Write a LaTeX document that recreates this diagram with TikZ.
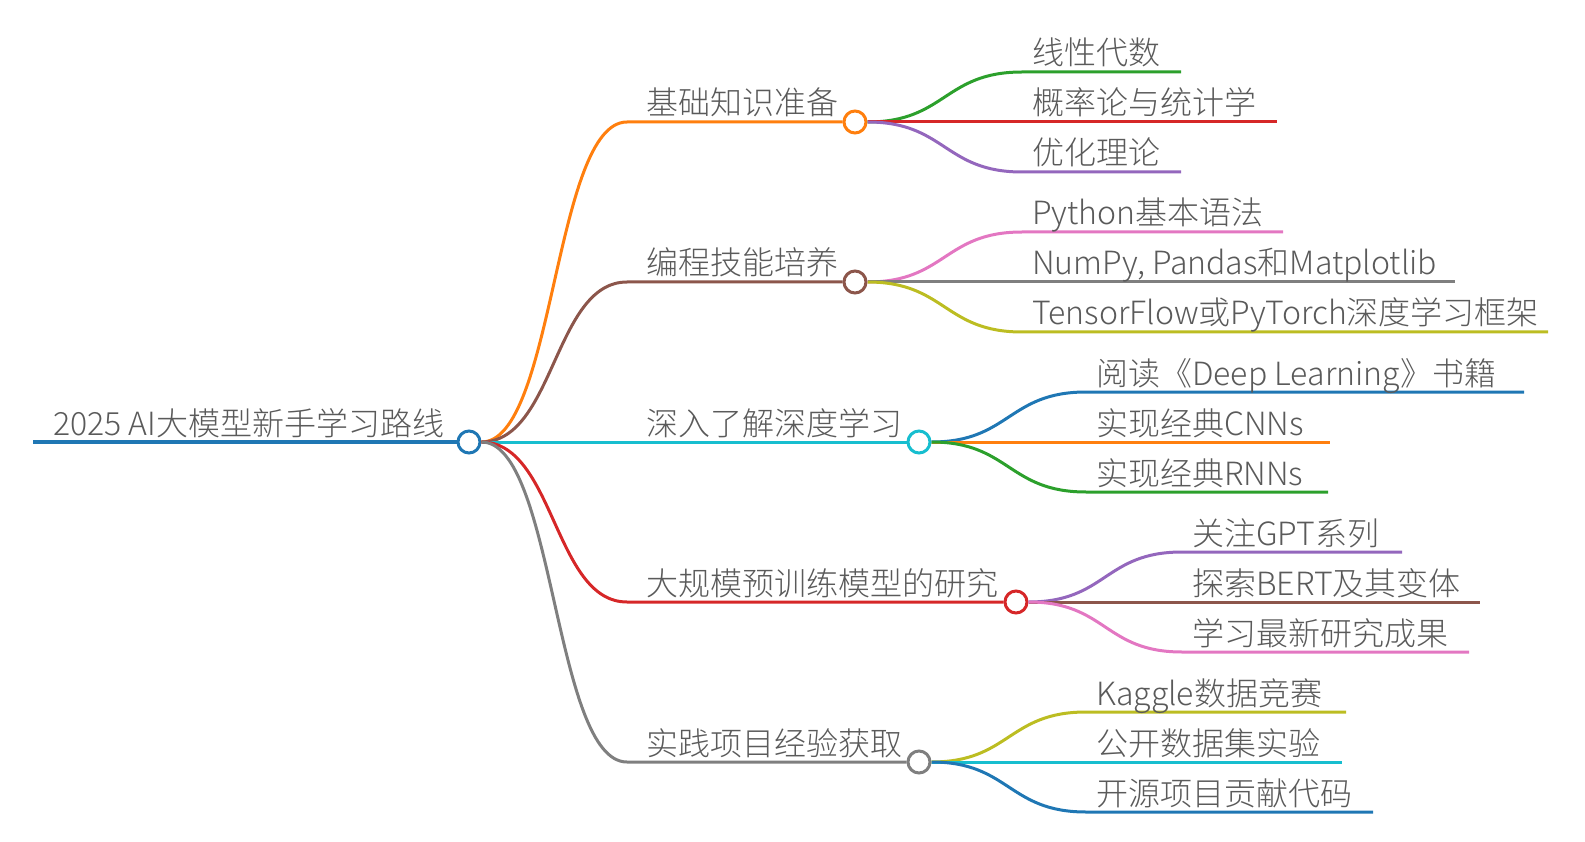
\documentclass[tikz,border=0pt]{standalone}
\usepackage{fontspec}
\setmainfont{Noto Sans CJK SC}[UprightFont={* Light}]
\definecolor{mBlue}{HTML}{1F77B4}
\definecolor{mOrange}{HTML}{FF7F0E}
\definecolor{mGreen}{HTML}{2CA02C}
\definecolor{mRed}{HTML}{D62728}
\definecolor{mPurple}{HTML}{9467BD}
\definecolor{mBrown}{HTML}{8C564B}
\definecolor{mPink}{HTML}{E377C2}
\definecolor{mGray}{HTML}{7F7F7F}
\definecolor{mOlive}{HTML}{BCBD22}
\definecolor{mCyan}{HTML}{17BECF}
\definecolor{mText}{HTML}{5A5A5A}
\begin{document}
\begin{tikzpicture}[x=1pt,y=-1pt,
  hub/.style={circle,draw=#1,line width=3pt,fill=white,minimum size=22pt,inner sep=0pt},
  branch/.style={draw=#1,line width=3pt},
  topic/.style={anchor=base west,inner sep=0pt,text=mText,font=\fontsize{32}{38}\selectfont}]
\useasboundingbox (0,0) rectangle (1585,842);

% root
\node[hub=mBlue] (root) at (469,442) {};
\coordinate (r0) at (33,442);
\draw[branch=mBlue,line width=4pt] (r0) -- (root.west);
\node[topic] (tRoot) at (53,435) {2025 AI大模型新手学习路线};

% level 1
\node[hub=mOrange] (b1) at (855,122) {};
\node[hub=mBrown] (b2) at (855,282) {};
\node[hub=mCyan] (b3) at (919,442) {};
\node[hub=mRed] (b4) at (1016,602) {};
\node[hub=mGray] (b5) at (919,762) {};
\coordinate (b1s) at (627,122);
\coordinate (b2s) at (627,282);
\coordinate (b3s) at (627,442);
\coordinate (b4s) at (627,602);
\coordinate (b5s) at (627,762);
\draw[branch=mOrange] (root.east) .. controls +(73,0) and +(-73,0) .. (b1s) -- (b1.west);
\draw[branch=mBrown] (root.east) .. controls +(73,0) and +(-73,0) .. (b2s) -- (b2.west);
\draw[branch=mCyan] (root.east) -- (b3s) -- (b3.west);
\draw[branch=mRed] (root.east) .. controls +(73,0) and +(-73,0) .. (b4s) -- (b4.west);
\draw[branch=mGray] (root.east) .. controls +(73,0) and +(-73,0) .. (b5s) -- (b5.west);
\node[topic] (t1) at (646,115) {基础知识准备};
\node[topic] (t2) at (646,275) {编程技能培养};
\node[topic] (t3) at (646,435) {深入了解深度学习};
\node[topic] (t4) at (646,595) {大规模预训练模型的研究};
\node[topic] (t5) at (646,755) {实践项目经验获取};

% level 2: 基础知识准备
\coordinate (l11s) at (1022,72);  \coordinate (l11e) at (1181,72);
\coordinate (l12s) at (1022,122); \coordinate (l12e) at (1277,122);
\coordinate (l13s) at (1022,172); \coordinate (l13e) at (1181,172);
\draw[branch=mGreen] (b1.east) .. controls +(78,0) and +(-78,0) .. (l11s) -- (l11e);
\draw[branch=mRed] (b1.east) -- (l12s) -- (l12e);
\draw[branch=mPurple] (b1.east) .. controls +(78,0) and +(-78,0) .. (l13s) -- (l13e);
\node[topic] (t11) at (1032,65) {线性代数};
\node[topic] (t12) at (1032,115) {概率论与统计学};
\node[topic] (t13) at (1032,165) {优化理论};

% level 2: 编程技能培养
\coordinate (l21s) at (1022,232); \coordinate (l21e) at (1283,232);
\coordinate (l22s) at (1022,282); \coordinate (l22e) at (1455,282);
\coordinate (l23s) at (1022,332); \coordinate (l23e) at (1548,332);
\draw[branch=mPink] (b2.east) .. controls +(78,0) and +(-78,0) .. (l21s) -- (l21e);
\draw[branch=mGray] (b2.east) -- (l22s) -- (l22e);
\draw[branch=mOlive] (b2.east) .. controls +(78,0) and +(-78,0) .. (l23s) -- (l23e);
\node[topic] (t21) at (1032,225) {Python基本语法};
\node[topic] (t22) at (1032,275) {NumPy, Pandas和Matplotlib};
\node[topic] (t23) at (1032,325) {TensorFlow或PyTorch深度学习框架};

% level 2: 深入了解深度学习
\coordinate (l31s) at (1086,392); \coordinate (l31e) at (1524,392);
\coordinate (l32s) at (1086,442); \coordinate (l32e) at (1330,442);
\coordinate (l33s) at (1086,492); \coordinate (l33e) at (1328,492);
\draw[branch=mBlue] (b3.east) .. controls +(78,0) and +(-78,0) .. (l31s) -- (l31e);
\draw[branch=mOrange] (b3.east) -- (l32s) -- (l32e);
\draw[branch=mGreen] (b3.east) .. controls +(78,0) and +(-78,0) .. (l33s) -- (l33e);
\node[topic] (t31) at (1096,385) {阅读《Deep Learning》书籍};
\node[topic] (t32) at (1096,435) {实现经典CNNs};
\node[topic] (t33) at (1096,485) {实现经典RNNs};

% level 2: 大规模预训练模型的研究
\coordinate (l41s) at (1182,552); \coordinate (l41e) at (1402,552);
\coordinate (l42s) at (1182,602); \coordinate (l42e) at (1480,602);
\coordinate (l43s) at (1182,652); \coordinate (l43e) at (1469,652);
\draw[branch=mPurple] (b4.east) .. controls +(78,0) and +(-78,0) .. (l41s) -- (l41e);
\draw[branch=mBrown] (b4.east) -- (l42s) -- (l42e);
\draw[branch=mPink] (b4.east) .. controls +(78,0) and +(-78,0) .. (l43s) -- (l43e);
\node[topic] (t41) at (1192,545) {关注GPT系列};
\node[topic] (t42) at (1192,595) {探索BERT及其变体};
\node[topic] (t43) at (1192,645) {学习最新研究成果};

% level 2: 实践项目经验获取
\coordinate (l51s) at (1086,712); \coordinate (l51e) at (1346,712);
\coordinate (l52s) at (1086,762); \coordinate (l52e) at (1342,762);
\coordinate (l53s) at (1086,812); \coordinate (l53e) at (1373,812);
\draw[branch=mOlive] (b5.east) .. controls +(78,0) and +(-78,0) .. (l51s) -- (l51e);
\draw[branch=mCyan] (b5.east) -- (l52s) -- (l52e);
\draw[branch=mBlue] (b5.east) .. controls +(78,0) and +(-78,0) .. (l53s) -- (l53e);
\node[topic] (t51) at (1096,705) {Kaggle数据竞赛};
\node[topic] (t52) at (1096,755) {公开数据集实验};
\node[topic] (t53) at (1096,805) {开源项目贡献代码};

\end{tikzpicture}
\end{document}
